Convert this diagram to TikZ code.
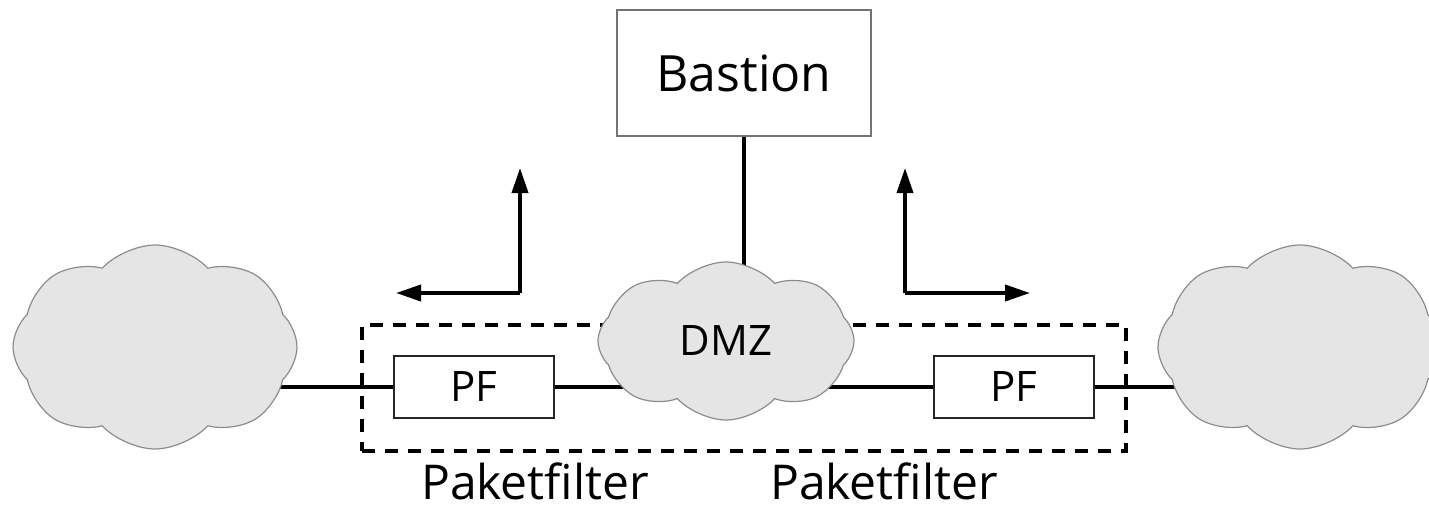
\documentclass[tikz,border=0pt]{standalone}
\usepackage{fontspec}
\setmainfont{Open Sans}
\usetikzlibrary{shapes.symbols,arrows.meta,backgrounds}

\tikzset{
  net/.style={cloud, cloud puffs=8, cloud puff arc=95, draw=black!45, line width=0.6pt,
    fill=black!10, inner sep=0pt},
  hostbox/.style={draw=black!55, line width=0.8pt, fill=white, inner sep=0pt,
    minimum width=127pt, minimum height=63pt},
  pfbox/.style={draw=black!85, line width=1pt, fill=white, inner sep=0pt,
    minimum width=80pt, minimum height=31pt, font=\fontsize{21}{24}\selectfont},
  wire/.style={line width=1.9pt, black},
  zonebox/.style={draw, line width=1.9pt, dash pattern=on 6.5pt off 5pt, inner sep=0pt,
    minimum width=382pt, minimum height=63pt},
  flow/.style={line width=1.9pt, -{Triangle[length=12.5pt,width=8pt]}},
  caption/.style={font=\fontsize{24}{28}\selectfont, anchor=base, inner sep=0pt}
}

\begin{document}
\begin{tikzpicture}[x=0.5pt, y=-0.5pt]
  \useasboundingbox (0,0) rectangle (1429,509);

  % networks
  \node[net, minimum width=142pt, minimum height=102pt] (outL) at (155,347) {};
  \node[net, minimum width=142pt, minimum height=102pt] (outR) at (1300,347) {};

  % packet filters and the screened zone around them
  \node[zonebox] (zone) at (744,388) {};
  \node[pfbox] (pf1) at (474,387) {PF};
  \node[pfbox] (pf2) at (1014,387) {PF};

  \node[net, minimum width=128pt, minimum height=79pt,
        font=\fontsize{21}{24}\selectfont] (dmz) at (726,341) {DMZ};

  % bastion host
  \node[hostbox, font=\fontsize{25}{29}\selectfont] (bastion) at (744,73) {Bastion};

  % wiring, kept under the clouds
  \begin{scope}[on background layer]
    \draw[wire] (pf1.west) -- (pf1.west -| outL.center);
    \draw[wire] (pf1.east) -- (pf1.east -| dmz.center);
    \draw[wire] (pf2.west) -- (pf2.west -| dmz.center);
    \draw[wire] (pf2.east) -- (pf2.east -| outR.center);
    \draw[wire] (bastion.south) -- (bastion.south |- dmz.center);
  \end{scope}

  % traffic directions
  \coordinate (cornL) at (520,293);
  \coordinate (upL) at (520,168);
  \coordinate (leftL) at (396,293);
  \coordinate (cornR) at (905,293);
  \coordinate (upR) at (905,168);
  \coordinate (rightR) at (1030,293);
  \draw[flow] (cornL) -- (upL);
  \draw[flow] (cornL) -- (leftL);
  \draw[flow] (cornR) -- (upR);
  \draw[flow] (cornR) -- (rightR);

  % labels
  \node[caption] (lab1) at (535,499) {Paketfilter};
  \node[caption] (lab2) at (884,499) {Paketfilter};
\end{tikzpicture}
\end{document}
